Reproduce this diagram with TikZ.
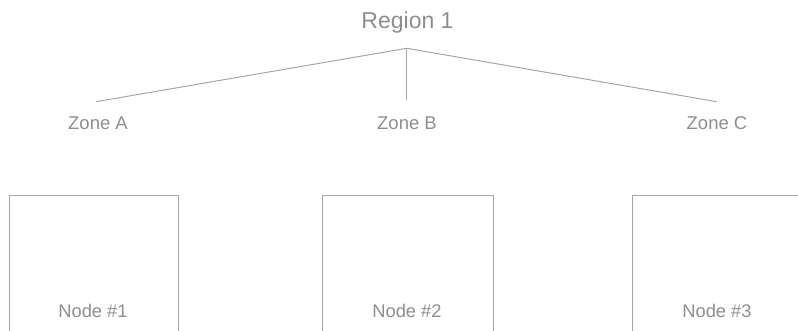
\documentclass[tikz,border=0pt]{standalone}
\usepackage{fontspec}
\setmainfont{Liberation Sans}
\definecolor{inkgray}{HTML}{8E8E8E}
\definecolor{linegray}{HTML}{A6A6A6}
\tikzset{
  title/.style={anchor=base, inner sep=0pt, text=inkgray, font=\fontsize{23}{27}\selectfont},
  zone/.style={anchor=base, inner sep=0pt, text=inkgray, font=\fontsize{18.5}{22}\selectfont},
  boxlabel/.style={anchor=base, inner sep=0pt, text=inkgray, font=\fontsize{18.3}{22}\selectfont},
  nodebox/.style={draw=linegray, line width=1.1pt, anchor=north west, inner sep=0pt},
  link/.style={draw=linegray, line width=1pt},
}
\begin{document}
\begin{tikzpicture}[x=1pt, y=-1pt]
  \useasboundingbox (0,0) rectangle (798,331);
  \clip (0,0) rectangle (798,331);

  % heading and branch point
  \node[title] (region) at (407.5,28.3) {Region 1};
  \coordinate (apex) at (406.7,48.3);

  % zone labels and the ends of the branches above them
  \node[zone] (zoneA) at (98,130) {Zone A};
  \node[zone] (zoneB) at (407,130) {Zone B};
  \node[zone] (zoneC) at (717,130) {Zone C};
  \coordinate (endA) at (96,101.7);
  \coordinate (endB) at (406.7,100);
  \coordinate (endC) at (716.7,101.7);

  \draw[link] (apex) -- (endA);
  \draw[link] (apex) -- (endB);
  \draw[link] (apex) -- (endC);

  % boxes, running past the lower edge
  \node[nodebox, minimum width=169pt, minimum height=170pt] (box1) at (8.5,195) {};
  \node[nodebox, minimum width=171pt, minimum height=170pt] (box2) at (322,195) {};
  \node[nodebox, minimum width=170pt, minimum height=170pt] (box3) at (632,195) {};

  \node[boxlabel] (label1) at (93,317) {Node \#1};
  \node[boxlabel] (label2) at (407,317) {Node \#2};
  \node[boxlabel] (label3) at (717,317) {Node \#3};
\end{tikzpicture}
\end{document}
